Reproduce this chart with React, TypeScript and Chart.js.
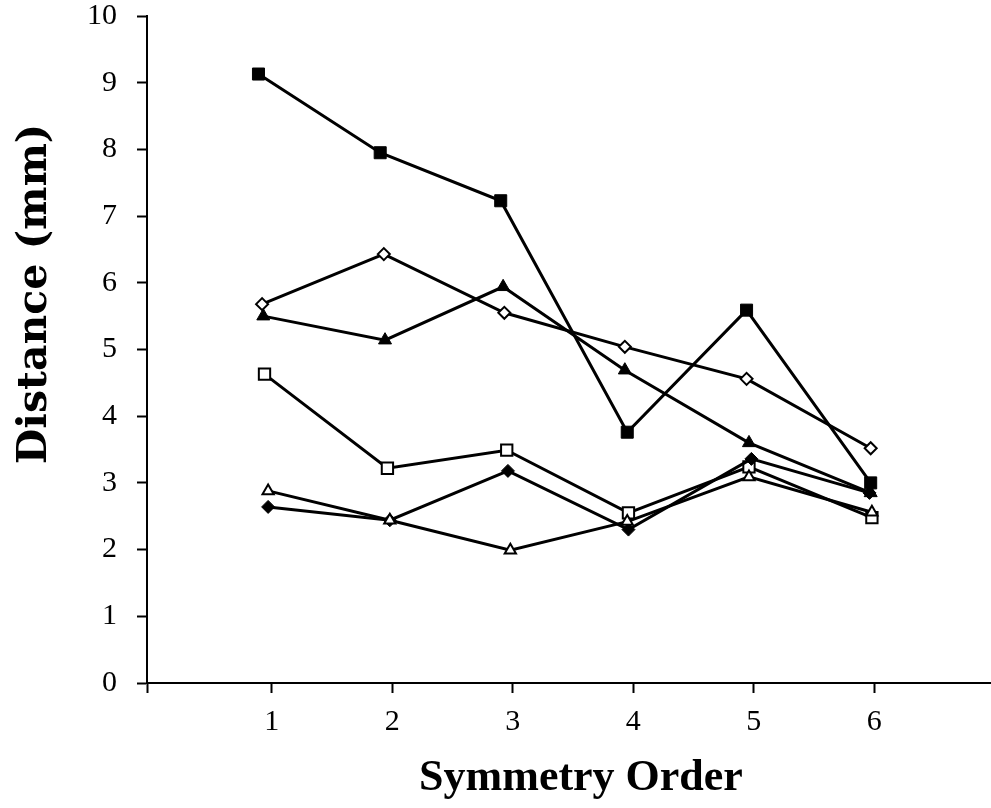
import React, { useEffect, useRef } from 'react';
import { Chart, registerables } from 'chart.js';

Chart.register(...registerables);

// ---- Data ----
const xTickLabels = ['1', '2', '3', '4', '5', '6'];
const xTickValues = [1, 2, 3, 4, 5, 6];
const yTickValues = [0, 1, 2, 3, 4, 5, 6, 7, 8, 9, 10];

// points are slightly staggered around each symmetry order in the original
const filledSquareX = [0.89, 1.9, 2.9, 3.95, 4.94, 5.97];
const filledSquareY = [9.13, 7.95, 7.23, 3.76, 5.59, 3.0];

const openDiamondX = [0.92, 1.93, 2.93, 3.93, 4.94, 5.97];
const openDiamondY = [5.68, 6.43, 5.55, 5.04, 4.56, 3.52];

const filledTriangleX = [0.93, 1.94, 2.92, 3.93, 4.96, 5.97];
const filledTriangleY = [5.5, 5.14, 5.94, 4.69, 3.6, 2.85];

const openSquareX = [0.94, 1.96, 2.95, 3.96, 4.96, 5.98];
const openSquareY = [4.63, 3.22, 3.49, 2.55, 3.24, 2.48];

const openTriangleX = [0.97, 1.98, 2.98, 3.95, 4.96, 5.98];
const openTriangleY = [2.88, 2.44, 1.99, 2.42, 3.09, 2.56];

const filledDiamondX = [0.97, 1.98, 2.96, 3.96, 4.98, 5.96];
const filledDiamondY = [2.64, 2.44, 3.18, 2.3, 3.36, 2.85];

const X_MIN = -0.035;
const X_MAX = 6.96;

function pts(xs: number[], ys: number[]) {
  return xs.map((x, i) => ({ x, y: ys[i] }));
}

const FONT = '"Liberation Serif", "Times New Roman", serif';
const TITLE_Y_FONT = '"DejaVu Serif", "Liberation Serif", serif';

const axisTitlePlugin = {
  id: 'axisTitlesCustom',
  afterDraw(chart: any) {
    const ctx = chart.ctx as CanvasRenderingContext2D;
    const area = chart.chartArea;
    ctx.save();
    ctx.fillStyle = '#000';
    ctx.textAlign = 'center';
    ctx.textBaseline = 'middle';
    ctx.font = `bold 44px ${FONT}`;
    ctx.fillText('Symmetry Order', area.left + 434, area.bottom + 96);
    ctx.font = `bold 41px ${TITLE_Y_FONT}`;
    ctx.translate(area.left - 112, area.top + 278);
    ctx.rotate(-Math.PI / 2);
    ctx.fillText('Distance (mm)', 0, 0);
    ctx.restore();
  },
};

export default function App() {
  const canvasRef = useRef<HTMLCanvasElement | null>(null);

  useEffect(() => {
    const canvas = canvasRef.current;
    if (!canvas) return;

    const lineCommon = {
      borderColor: '#000',
      borderWidth: 3,
      pointBorderColor: '#000',
      showLine: true,
      tension: 0,
    };

    const chart = new Chart(canvas, {
      type: 'line',
      data: {
        datasets: [
          {
            ...lineCommon,
            data: pts(openTriangleX, openTriangleY),
            pointStyle: 'triangle',
            pointRadius: 6.5,
            pointBorderWidth: 2,
            pointBackgroundColor: '#fff',
          },
          {
            ...lineCommon,
            data: pts(filledDiamondX, filledDiamondY),
            pointStyle: 'rectRot',
            pointRadius: 6.5,
            pointBorderWidth: 1,
            pointBackgroundColor: '#000',
          },
          {
            ...lineCommon,
            data: pts(openSquareX, openSquareY),
            pointStyle: 'rect',
            pointRadius: 8,
            pointBorderWidth: 2,
            pointBackgroundColor: '#fff',
          },
          {
            ...lineCommon,
            data: pts(filledTriangleX, filledTriangleY),
            pointStyle: 'triangle',
            pointRadius: 7.5,
            pointBorderWidth: 1,
            pointBackgroundColor: '#000',
          },
          {
            ...lineCommon,
            data: pts(openDiamondX, openDiamondY),
            pointStyle: 'rectRot',
            pointRadius: 6,
            pointBorderWidth: 2,
            pointBackgroundColor: '#fff',
          },
          {
            ...lineCommon,
            data: pts(filledSquareX, filledSquareY),
            pointStyle: 'rect',
            pointRadius: 8.5,
            pointBorderWidth: 1,
            pointBackgroundColor: '#000',
          },
        ],
      },
      options: {
        responsive: false,
        animation: false,
        devicePixelRatio: 1,
        layout: { padding: { top: 16, right: 0, left: 0, bottom: 0 } },
        plugins: {
          legend: { display: false },
          tooltip: { enabled: false },
        },
        scales: {
          x: {
            type: 'linear',
            min: X_MIN,
            max: X_MAX,
            afterBuildTicks: (axis: any) => {
              axis.ticks = [{ value: X_MIN }, ...xTickValues.map((v) => ({ value: v }))];
            },
            afterFit: (axis: any) => {
              axis.height = 125;
              axis.paddingLeft = 0;
              axis.paddingRight = 0;
            },
            ticks: {
              autoSkip: false,
              maxRotation: 0,
              padding: 11,
              color: '#000',
              font: { family: FONT, size: 30 },
              callback: (_v: any, i: number) => (i === 0 ? '' : xTickLabels[i - 1]),
            },
            grid: {
              drawOnChartArea: false,
              drawTicks: true,
              tickLength: 10,
              tickWidth: 2,
              tickColor: '#000',
            },
            border: { display: true, color: '#000', width: 2 },
          },
          y: {
            type: 'linear',
            min: 0,
            max: 10,
            afterBuildTicks: (axis: any) => {
              axis.ticks = yTickValues.map((v) => ({ value: v }));
            },
            afterFit: (axis: any) => {
              axis.width = 147;
              axis.paddingTop = 0;
              axis.paddingBottom = 0;
            },
            ticks: {
              padding: 20,
              color: '#000',
              font: { family: FONT, size: 30 },
              callback: (v: any) => String(v),
            },
            grid: {
              drawOnChartArea: false,
              drawTicks: true,
              tickLength: 10,
              tickWidth: 2,
              tickColor: '#000',
            },
            border: { display: true, color: '#000', width: 2 },
          },
        },
      },
      plugins: [axisTitlePlugin],
    } as any);

    return () => {
      chart.destroy();
    };
  }, []);

  return (
    <div
      style={{
        position: 'absolute',
        left: 0,
        top: 0,
        width: 991,
        height: 808,
        overflow: 'hidden',
        background: '#fff',
      }}
    >
      <canvas ref={canvasRef} width={1000} height={808} style={{ display: 'block' }} />
    </div>
  );
}
